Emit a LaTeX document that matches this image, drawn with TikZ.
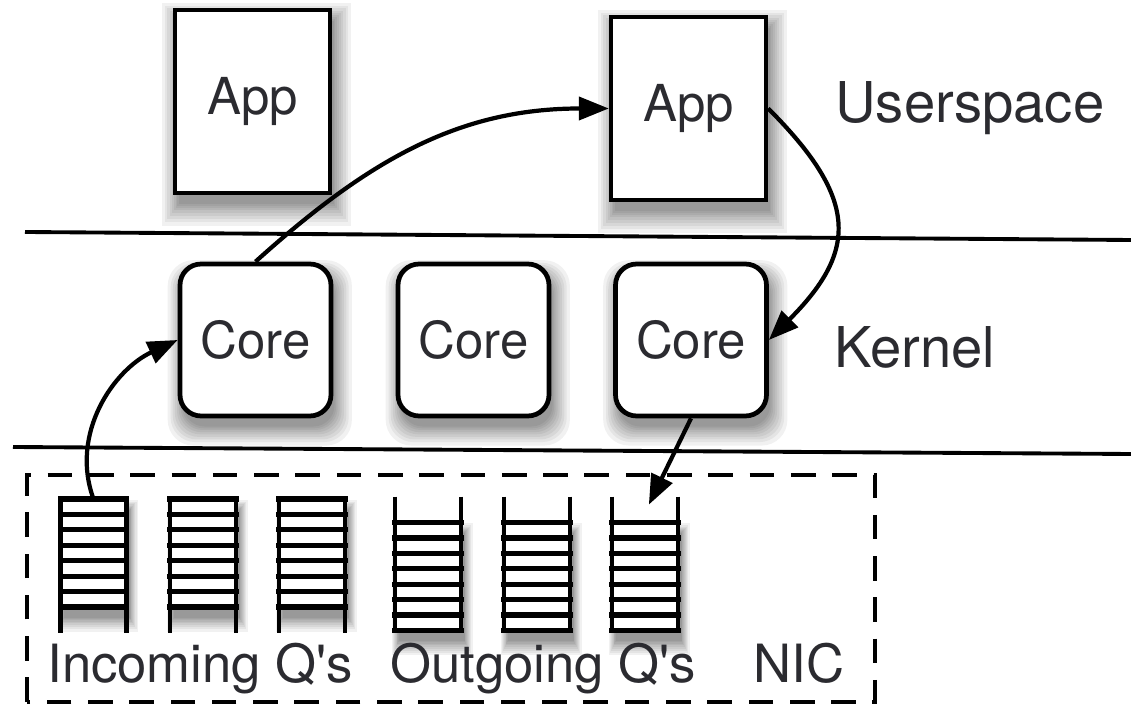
\documentclass[tikz,border=0pt]{standalone}
\usepackage{fontspec}
\setmainfont{TeX Gyre Heros}
\usetikzlibrary{arrows.meta,positioning,calc,shadows}
\definecolor{txtgrey}{HTML}{2B2B30}

\begin{document}
\begin{tikzpicture}[
  x=0.02cm, y=0.02cm,
  every node/.style={text=txtgrey},
  shl/.style={general shadow={fill=black, opacity=0.055, shadow scale=#1,
                              shadow xshift=2pt, shadow yshift=-6pt}},
  sh/.style={shl=1.22, shl=1.18, shl=1.15, shl=1.12, shl=1.09, shl=1.065,
             shl=1.04, shl=1.02, shl=1.0},
  appbox/.style={draw, line width=2.5pt, fill=white, sh, inner sep=0pt,
                 minimum width=3.1cm, minimum height=3.66cm,
                 font=\fontsize{29}{34}\selectfont},
  corebox/.style={draw, line width=2.7pt, fill=white, sh, inner sep=0pt,
                  rounded corners=12pt, minimum width=3.02cm,
                  minimum height=3.04cm, font=\fontsize{29}{34}\selectfont},
  queue/.style={fill=white, sh, inner sep=0pt, outer sep=0pt,
                minimum width=1.32cm, minimum height=2.16cm},
  rung/.style={line width=3pt, line cap=rect},
  qleg/.style={line width=2.8pt},
  layer/.style={line width=2.2pt},
  nicbox/.style={line width=2.8pt, dash pattern=on 14pt off 9.5pt},
  arr/.style={-{Triangle[length=17pt, width=13pt]}, line width=2.4pt},
  lbl/.style={anchor=base west, inner sep=0pt},
]
\useasboundingbox (0,0) rectangle (1131,706);

% ---------------- layer separators and the NIC ----------------------
\coordinate (ul) at (25,474);  \coordinate (ur) at (1131,466);
\coordinate (kl) at (13,259);  \coordinate (kr) at (1131,252);
\draw[layer] (ul) -- (ur);
\draw[layer] (kl) -- (kr);
\draw[nicbox] (27,4) rectangle (875,231);

% ---------------- userspace ------------------------------------------
\node[appbox] (app1) at (252.5,604.5) {App};
\node[appbox] (app2) at (688.5,597.5) {App};
\node[lbl, font=\fontsize{32}{38}\selectfont] (user) at (835,583) {Userspace};

% ---------------- kernel ---------------------------------------------
\node[corebox] (core1) at (255.5,366) {Core};
\node[corebox] (core2) at (473.5,366) {Core};
\node[corebox] (core3) at (691,366)   {Core};
\node[lbl, font=\fontsize{32}{38}\selectfont] (kern) at (834,338) {Kernel};

% ---------------- queues on the NIC ----------------------------------
\foreach \q/\x in {q1/93.5, q2/203, q3/312} {
  \node[queue] (\q) at (\x,153) {};
  \draw[qleg] (\q.north west) -- ([yshift=-0.52cm]\q.south west);
  \draw[qleg] (\q.north east) -- ([yshift=-0.52cm]\q.south east);
}
\foreach \q/\x in {q4/428, q5/537, q6/645} {
  \node[queue] (\q) at (\x,129.5) {};
  \draw[qleg] ([yshift=0.52cm]\q.north west) -- (\q.south west);
  \draw[qleg] ([yshift=0.52cm]\q.north east) -- (\q.south east);
}
\foreach \q in {q1,q2,q3,q4,q5,q6}
  \foreach \k in {0,...,7}
    \draw[rung] ($(\q.north west)!\k/7!(\q.south west)$)
             -- ($(\q.north east)!\k/7!(\q.south east)$);

\node[lbl, font=\fontsize{30}{36}\selectfont] (inlbl)  at (47,24)
  {Incoming Q\textquotesingle s};
\node[lbl, font=\fontsize{30}{36}\selectfont] (outlbl) at (390,24)
  {Outgoing Q\textquotesingle s};
\node[lbl, font=\fontsize{30}{36}\selectfont] (nic)    at (753,24) {NIC};

% ---------------- packet path ----------------------------------------
\draw[arr] (q1.north) to[out=110, in=205] (core1.west);
\draw[arr] (core1.north) to[out=42, in=180] (app2.west);
\draw[arr] (app2.east) to[out=-45, in=45, looseness=1.4] (core3.east);
\draw[arr, shorten >=5pt] (core3.south) -- ([yshift=0.2cm]q6.north);

\end{tikzpicture}
\end{document}
